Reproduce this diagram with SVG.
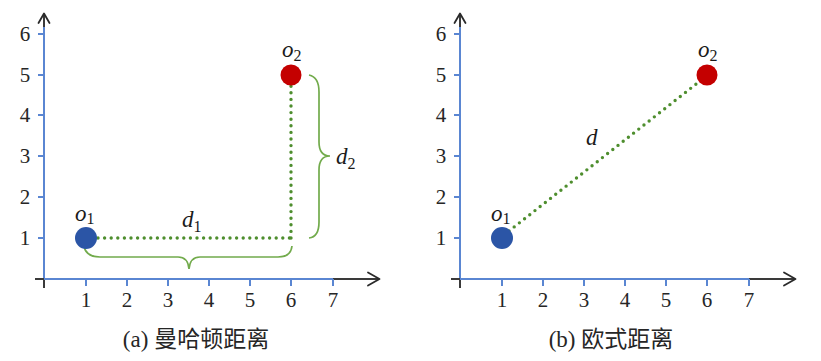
<svg xmlns="http://www.w3.org/2000/svg" xmlns:xlink="http://www.w3.org/1999/xlink" width="821" height="361" viewBox="0 0 821 361">
<style>
.ax{stroke:#5a86d2;stroke-width:2;fill:none}
.dk{stroke:#3a3a3a;stroke-width:2;fill:none}
.ar{stroke:#2a2a2a;stroke-width:1.8;fill:none;stroke-linecap:round;stroke-linejoin:round}
.num{font-family:'Liberation Serif',serif;font-size:21px;fill:#262626;text-anchor:middle}
.lbl{font-family:'Liberation Serif',serif;font-style:italic;font-size:23px;fill:#1a1a1a}
.sub{font-size:16px;font-style:normal}
.cap{font-family:'Liberation Serif','Noto Sans CJK SC',serif;font-size:23px;fill:#262626;text-anchor:middle}
.dot{stroke:#4e8e2e;stroke-width:3.4;stroke-linecap:round;stroke-dasharray:0 6.6;fill:none}
.brace{stroke:#72ab4c;stroke-width:1.7;fill:none}
</style>
<defs>
<g id="axes">
<line class="dk" x1="44" y1="288" x2="44" y2="279"/>
<line class="ax" x1="44" y1="279" x2="44" y2="27"/>
<line class="dk" x1="44" y1="27" x2="44" y2="14"/>
<polyline class="ar" points="38.5,23 44,13.5 49.5,23"/>
<line class="dk" x1="35" y1="279" x2="44" y2="279"/>
<line class="ax" x1="44" y1="279" x2="333" y2="279"/>
<line class="dk" x1="333" y1="279" x2="379" y2="279"/>
<polyline class="ar" points="368,272.5 379.5,279 368,285.5"/>
<path class="ax" d="M86 279v7M127 279v7M168 279v7M209 279v7M250 279v7M291 279v7M333 279v7"/>
<path class="ax" d="M38 238h6M38 197h6M38 156h6M38 115h6M38 75h6M38 34h6"/>
<g class="num">
<text x="86" y="307">1</text><text x="127" y="307">2</text><text x="168" y="307">3</text><text x="209" y="307">4</text><text x="250" y="307">5</text><text x="291" y="307">6</text><text x="333" y="307">7</text>
<text x="25" y="245">1</text><text x="25" y="204">2</text><text x="25" y="163">3</text><text x="25" y="122">4</text><text x="25" y="82">5</text><text x="25" y="41">6</text>
</g>
</g>
</defs>
<g id="axes-a"><use xlink:href="#axes"/></g>
<g id="axes-b"><use xlink:href="#axes" transform="translate(416,0)"/></g>
<g id="connectors">
<line class="dot" x1="98" y1="238" x2="291" y2="238"/>
<line class="dot" x1="291" y1="238" x2="291" y2="86"/>
<path class="brace" d="M84 246 Q86 257 100 257 L178 257 Q188 257 189 269 Q190 257 200 257 L278 257 Q291 257 292 246"/>
<path class="brace" d="M309 75 Q319 77 319 92 L319 142 Q319 156 330 156 Q319 156 319 170 L319 222 Q319 237 309 238"/>
<line class="dot" x1="509" y1="231" x2="700" y2="81"/>
</g>
<g id="o1a"><circle cx="86" cy="238" r="11" fill="#2b55a6"/><text class="lbl" x="75" y="221">o<tspan class="sub" dy="3">1</tspan></text></g>
<g id="o2a"><circle cx="291" cy="75" r="10.5" fill="#c40000"/><text class="lbl" x="282" y="57">o<tspan class="sub" dy="4">2</tspan></text></g>
<g id="d1"><text class="lbl" x="182" y="227">d<tspan class="sub" dy="5">1</tspan></text></g>
<g id="d2"><text class="lbl" x="336" y="164">d<tspan class="sub" dy="5">2</tspan></text></g>
<g id="o1b"><circle cx="502" cy="238" r="11" fill="#2b55a6"/><text class="lbl" x="491" y="221">o<tspan class="sub" dy="3">1</tspan></text></g>
<g id="o2b"><circle cx="707" cy="75" r="10.5" fill="#c40000"/><text class="lbl" x="698" y="57">o<tspan class="sub" dy="4">2</tspan></text></g>
<g id="d"><text class="lbl" x="586" y="145">d</text></g>
<text class="cap" x="196" y="347">(a) 曼哈顿距离</text>
<text class="cap" x="611" y="347">(b) 欧式距离</text>
</svg>
